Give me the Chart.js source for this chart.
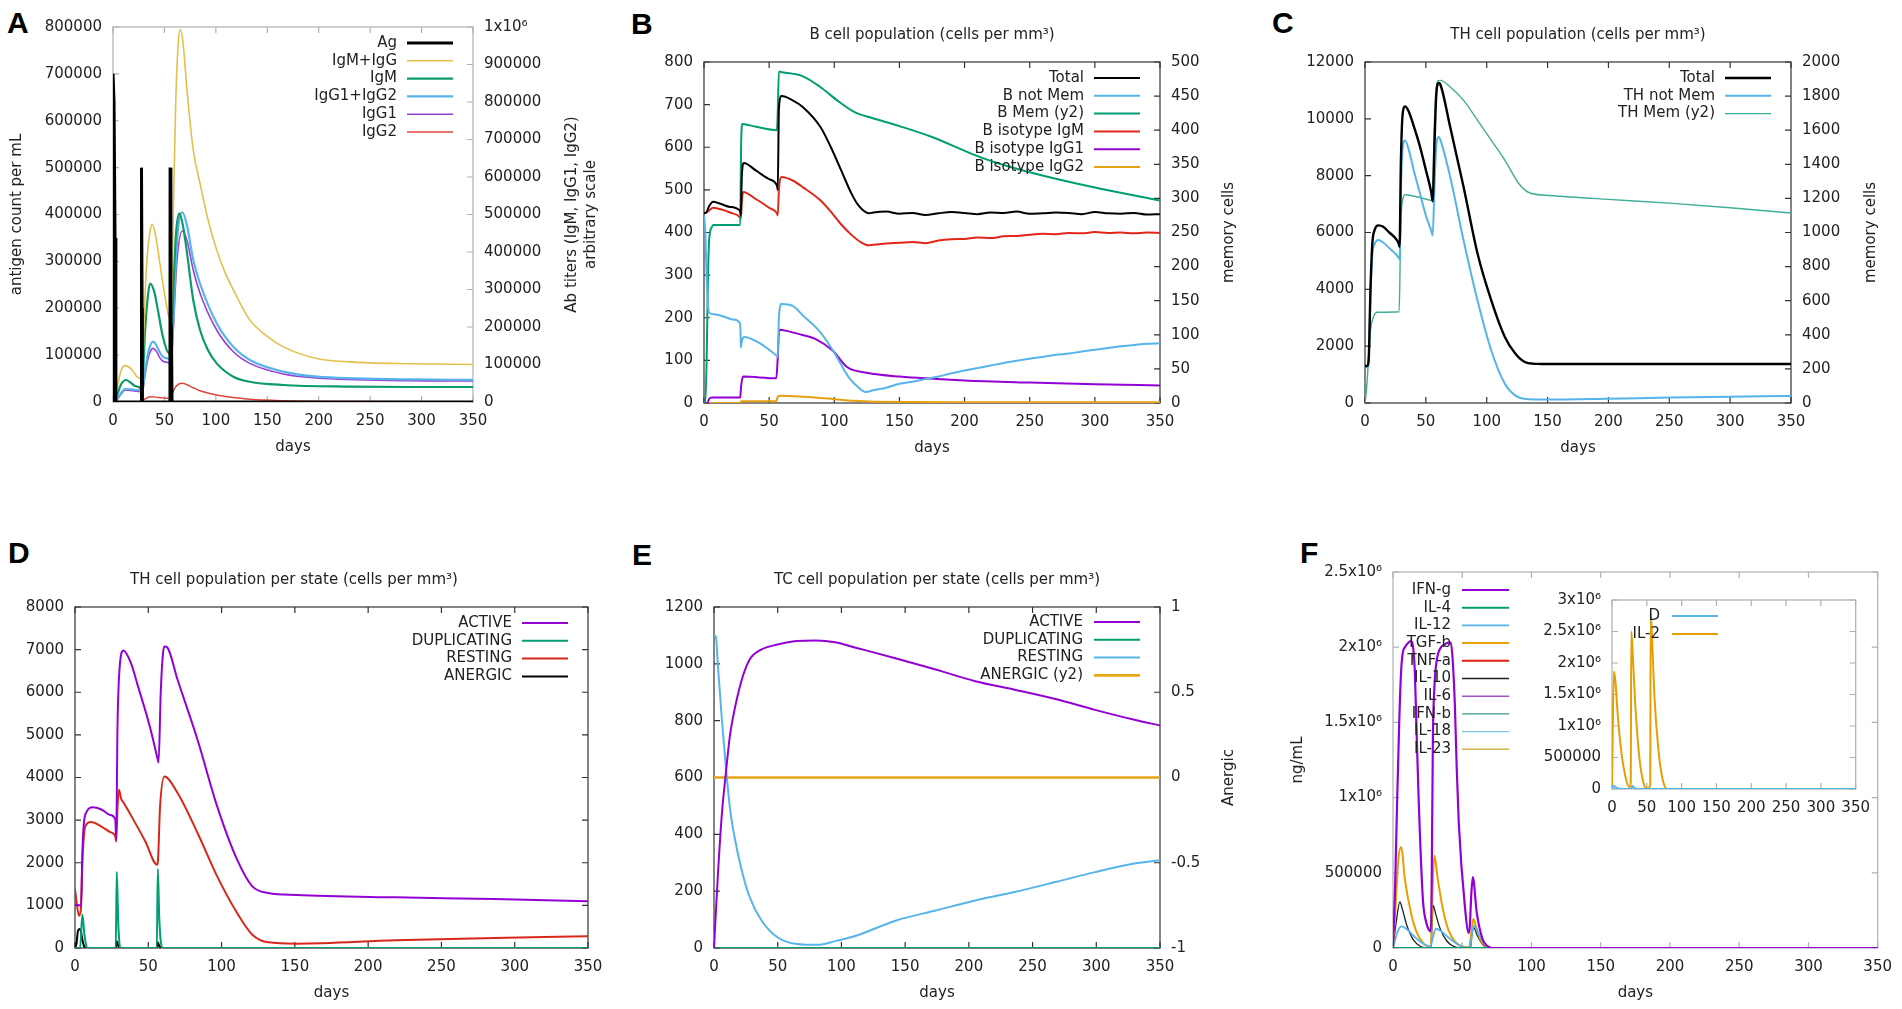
<!DOCTYPE html>
<html>
<head>
<meta charset="utf-8">
<script src="https://cdn.jsdelivr.net/npm/chart.js@4.4.1/dist/chart.umd.min.js"></script>
<style>
  body { margin: 0; background: #fff; width: 1902px; height: 1009px; position: relative; overflow: hidden; }
  .panel { position: absolute; }
  .tag { position: absolute; font: bold 30px "Liberation Sans", Arial, sans-serif; line-height: 30px; color: #000; }
</style>
</head>
<body>
<div class="tag" style="left:7px;top:8px">A</div>
<div class="tag" style="left:631px;top:9px">B</div>
<div class="tag" style="left:1272px;top:8px">C</div>
<div class="tag" style="left:8px;top:538px">D</div>
<div class="tag" style="left:632px;top:540px">E</div>
<div class="tag" style="left:1300px;top:538px">F</div>

<div class="panel" style="left:0px;top:0px;width:600px;height:460px"><canvas id="chartA"></canvas></div>
<div class="panel" style="left:590px;top:0px;width:684px;height:460px"><canvas id="chartB"></canvas></div>
<div class="panel" style="left:1265px;top:0px;width:626px;height:460px"><canvas id="chartC"></canvas></div>
<div class="panel" style="left:0px;top:545px;width:663px;height:460px"><canvas id="chartD"></canvas></div>
<div class="panel" style="left:624px;top:545px;width:626px;height:460px"><canvas id="chartE"></canvas></div>
<div class="panel" style="left:1280px;top:545px;width:622px;height:460px"><canvas id="chartF"></canvas></div>
<div class="panel" style="left:1530px;top:580px;width:350px;height:240px"><canvas id="chartF2"></canvas></div>

<script>
// ---- A: antigen and antibodies ----
const aAgDays = [0, 0.05, 1, 2, 2.8, 27.6, 27.7, 28.3, 28.6, 55.4, 55.5, 56.3, 56.8, 57.4, 350];
const aAg = [0, 700000, 640000, 350000, 0, 0, 500000, 200000, 0, 0, 500000, 170000, 160000, 0, 0];
const aSumDays = [0, 4, 8, 12, 16, 20, 24, 27.3, 27.9, 28.6, 30, 33, 36, 38, 41, 45, 50, 54, 55.6, 56.2, 58, 61, 63.5, 65.5, 68, 72, 78, 84.6, 92, 100.8, 109, 117, 133, 150, 165.6, 198, 230, 289, 350];
const aSum = [0, 40000, 85000, 97000, 92000, 80000, 66000, 58000, 35000, 60000, 200000, 380000, 455000, 474000, 450000, 380000, 290000, 230000, 214000, 195000, 420000, 800000, 960000, 993000, 960000, 830000, 672000, 583000, 490000, 405000, 345000, 299000, 219000, 175000, 147000, 116000, 107000, 102000, 100000];
const aIgmDays = [0, 4, 8, 12.6, 17, 22, 27.3, 27.9, 28.6, 31, 34, 36, 40, 44, 48, 52, 55.6, 56.2, 58, 61, 64.5, 68, 71.6, 78, 84.6, 92, 100.8, 117, 133, 165.6, 230, 289, 350];
const aIgm = [0, 20000, 48000, 58700, 52000, 42000, 35000, 20000, 40000, 180000, 285000, 316000, 295000, 240000, 180000, 140000, 121000, 110000, 250000, 440000, 503000, 470000, 405000, 272000, 192000, 140000, 103000, 67500, 54000, 45300, 41000, 40000, 40000];
const aIggDays = [0, 4, 8, 12, 17, 22, 27.3, 27.9, 28.6, 31, 35, 39, 42, 46, 50, 55.6, 56.2, 58, 62, 67.4, 72, 78, 84.6, 100.8, 117, 133, 165.6, 198, 289, 350];
const aIgg12 = [0, 8000, 25000, 34700, 34000, 32000, 30000, 15000, 25000, 80000, 140000, 161000, 152000, 130000, 118000, 112000, 105000, 180000, 420000, 506000, 470000, 379000, 316000, 210000, 147000, 112000, 81000, 67500, 60500, 59000];
const aIgg1 = [0, 7000, 22000, 32000, 31000, 29000, 27000, 13000, 22000, 70000, 125000, 143000, 136000, 116000, 107000, 103000, 97000, 160000, 370000, 456000, 430000, 352000, 290000, 192000, 134000, 103000, 74700, 64000, 57000, 56000];
const aIgg2Days = [0, 27, 30, 36, 42, 48, 55, 56.1, 58, 62, 67.4, 72, 78, 84.6, 100.8, 117, 133, 165.6, 230, 350];
const aIgg2 = [0, 0, 6000, 14000, 13000, 11000, 9000, 6000, 25000, 44000, 50000, 46000, 38000, 30000, 18700, 12000, 7200, 3500, 1500, 1000];

// ---- B: B cell population ----
const bTotalDays = [0, 2, 4, 7, 12, 20, 27.8, 28.3, 29, 30.5, 40, 50, 56, 56.6, 57.5, 59.5, 68, 76, 89.5, 97.4, 105.4, 113.4, 118.7, 126.6, 130, 140, 150, 160, 170, 180, 190, 200, 210, 220, 230, 240, 250, 260, 270, 280, 290, 300, 310, 320, 330, 340, 350];
const bTotal = [445, 448, 462, 472, 468, 460, 450, 440, 530, 563, 545, 525, 510, 500, 690, 720, 710, 694, 647, 600, 545, 490, 463, 445, 447, 449, 444, 446, 441, 445, 448, 446, 443, 447, 446, 449, 444, 445, 447, 446, 443, 448, 445, 444, 446, 442, 443];
const bNotDays = [0, 1, 2, 3, 4, 8, 15, 22, 27.5, 28, 28.3, 29, 31, 40, 50, 56, 56.6, 57.5, 59.5, 68, 76, 89.5, 100, 110.7, 118.7, 124, 130, 140, 150, 160, 170, 180, 190, 200, 210, 220, 230, 240, 250, 260, 270, 280, 290, 300, 310, 320, 330, 340, 350];
const bNot = [440, 400, 300, 230, 212, 208, 203, 196, 188, 170, 130, 145, 155, 145, 125, 110, 108, 200, 232, 228, 205, 165, 118, 62, 36, 26, 30, 36, 45, 50, 56, 62, 70, 76, 82, 88, 94, 99, 104, 108, 113, 116, 121, 125, 129, 133, 136, 139, 140];
const bMemDays = [0, 1, 2, 3, 4, 6, 7, 27.8, 28.5, 29.5, 40, 56, 56.5, 57.5, 60, 76, 89.5, 102.7, 116, 129, 150, 175, 206, 225, 259, 300, 350];
const bMem = [0, 0, 60, 180, 240, 258, 261, 261, 380, 409, 405, 400, 420, 486, 485, 479, 463, 443, 426, 418, 406, 390, 365, 352, 334, 316, 297];
const bIgmDays = [0, 2, 4, 7, 12, 20, 27.8, 28.3, 29, 30, 40, 50, 56, 56.6, 57.5, 59.5, 68, 76, 89.5, 97, 105, 113, 120, 126, 130, 140, 150, 160, 170, 180, 190, 200, 210, 220, 230, 240, 250, 260, 270, 280, 290, 300, 310, 320, 330, 340, 350];
const bIgm = [445, 447, 452, 458, 455, 447, 435, 432, 470, 495, 478, 458, 445, 440, 500, 530, 522, 506, 475, 450, 420, 395, 378, 370, 371, 374, 376, 378, 375, 381, 384, 385, 388, 387, 391, 392, 395, 397, 396, 399, 398, 401, 399, 400, 398, 400, 399];
const bIgg1Days = [0, 2.5, 4, 6, 27.8, 28.5, 30, 55.5, 56.5, 57.7, 65, 75, 85, 98.7, 110, 125, 150, 200, 250, 300, 350];
const bIgg1 = [0, 0, 10, 13, 13, 40, 62, 58, 100, 172, 168, 160, 151, 123, 84, 71, 62, 53, 48, 44, 41];
const bIgg2Days = [0, 27.8, 28.5, 55.5, 56.5, 58, 70, 85, 100, 115, 130, 200, 350];
const bIgg2 = [0, 0, 4, 4, 14, 17, 16, 13, 9, 5, 3, 2, 2];

// ---- C: TH cell population ----
const cTotalDays = [0, 2, 3, 4.5, 6, 8, 11, 15, 20, 25, 27.8, 28.4, 29.5, 31, 33, 36, 40, 45, 50, 54.5, 55.6, 57, 58.5, 60.5, 62, 70, 81, 92.5, 103.8, 115, 123.6, 132, 143.5, 200, 350];
const cTotal = [1300, 1310, 1500, 4000, 5600, 6100, 6250, 6200, 6000, 5800, 5600, 5500, 8500, 10200, 10440, 10250, 9750, 9050, 8200, 7400, 7100, 9000, 10800, 11260, 11200, 9710, 7600, 5250, 3600, 2310, 1730, 1430, 1375, 1370, 1375];
const cNotDays = [0, 2, 3, 4.5, 6, 8, 11, 15, 20, 25, 27.8, 28.4, 29.5, 31, 33, 36, 40, 45, 50, 54.5, 55.6, 57, 58.5, 60.5, 62, 70, 81, 92.5, 103.8, 115, 123.6, 132, 150, 200, 250, 300, 350];
const cNot = [1300, 1250, 1500, 3800, 5200, 5600, 5740, 5650, 5450, 5250, 5100, 5050, 7500, 9000, 9240, 8900, 8200, 7400, 6600, 6050, 5890, 7500, 9000, 9360, 9250, 7950, 5720, 3600, 1840, 670, 260, 140, 120, 150, 190, 220, 250];
const cMemDays = [0, 1.5, 3.1, 4.5, 7.4, 10.2, 28, 28.6, 29.2, 31.5, 33, 45, 55.6, 56.5, 58, 60, 62, 70, 81, 92.5, 103.8, 115, 126.5, 135, 152, 200, 250, 300, 350];
const cMem = [0, 100, 287, 425, 513, 532, 535, 700, 992, 1207, 1221, 1205, 1188, 1500, 1800, 1890, 1892, 1853, 1775, 1658, 1540, 1423, 1286, 1233, 1217, 1194, 1172, 1145, 1114];

// ---- D: TH cell population per state ----
const dActDays = [0, 3.5, 4.2, 5, 6, 8, 12, 18, 24, 27.5, 28.1, 29, 30.5, 33, 38, 43, 51, 56.5, 57, 58.5, 60, 61, 63, 70, 83.6, 97, 110.6, 121, 132, 151, 218.6, 286, 350];
const dAct = [1016, 1000, 1000, 2200, 2900, 3200, 3300, 3250, 3120, 3010, 2540, 5200, 6600, 6982, 6700, 6138, 5200, 4418, 4350, 6000, 6900, 7076, 7050, 6294, 4887, 3323, 2072, 1446, 1290, 1243, 1188, 1149, 1095];
const dDupDays = [0, 3.5, 5, 6.5, 8, 9, 27.8, 28.5, 29.5, 30.5, 31, 55.8, 56.5, 57.5, 59, 60, 350];
const dDup = [0, 0, 782, 300, 20, 0, 0, 1783, 600, 50, 0, 0, 1853, 700, 50, 0, 0];
const dRestDays = [0, 1, 2.7, 4, 5, 7, 11, 18, 24, 27.5, 28.1, 29, 30, 31.5, 33, 40, 48, 56, 56.5, 58, 61, 70, 83.6, 97, 110.6, 121, 132, 151, 218.6, 286, 350];
const dRest = [1384, 1100, 758, 900, 2000, 2854, 2955, 2850, 2720, 2619, 2500, 3300, 3714, 3500, 3417, 3000, 2500, 1955, 2000, 3300, 4026, 3636, 2697, 1681, 821, 313, 133, 102, 180, 235, 274];
const dAnDays = [0, 1, 2, 3, 4, 5, 6, 7, 27.8, 28.5, 29.5, 31, 55.8, 56.5, 57.5, 59, 350];
const dAn = [0, 100, 400, 446, 400, 200, 60, 0, 0, 156, 60, 0, 0, 133, 50, 0, 0];

// ---- E: TC cell population per state ----
const eActDays = [0, 3.1, 6.2, 9.3, 12.4, 15.6, 21.8, 28, 37, 50, 65, 80, 95, 112, 143, 174, 205, 236, 268, 299, 330, 350];
const eAct = [0, 261, 473, 615, 744, 827, 944, 1015, 1050, 1068, 1080, 1082, 1076, 1056, 1019, 980, 939, 909, 876, 838, 803, 783];
const eRestDays = [0, 1.5, 3.1, 6.2, 9.3, 12.4, 15.6, 21.8, 28, 37.3, 49.8, 65, 81, 96.5, 112, 143, 174, 205, 236, 268, 299, 330, 350];
const eRest = [1100, 1095, 991, 803, 638, 497, 403, 273, 179, 97, 38, 14, 11, 26, 44, 97, 132, 167, 197, 232, 267, 297, 309];
const eFlatDays = [0, 350];
const eDup = [0, 0];
const eAnergic = [0, 0];

// ---- F: cytokines ----
const fIfnDays = [0, 1.5, 2.9, 4.5, 5.8, 7, 8.6, 11, 13, 14.5, 15.8, 17, 18.7, 21.6, 24, 26, 27.4, 28, 28.8, 30, 31.7, 34, 37.5, 40, 41.8, 43.2, 44.7, 46, 47.5, 51.9, 54.7, 55.5, 56.5, 57.6, 60.5, 64.8, 68, 72, 350];
const fIfn = [0, 400000, 942000, 1500000, 1830000, 1960000, 2000000, 2030000, 2040000, 2000000, 1830000, 1450000, 942000, 321000, 170000, 120000, 111000, 500000, 1380000, 1750000, 1920000, 1990000, 2020000, 2030000, 2030000, 1900000, 1610000, 1200000, 831000, 277000, 100000, 150000, 350000, 472000, 233000, 55000, 15000, 0, 0];
const fTgfDays = [0, 2, 4, 6, 8.6, 13, 17.3, 23, 27.4, 28, 29, 30, 32, 36, 40, 45, 50, 55, 56.5, 58, 60, 63, 66, 70, 350];
const fTgf = [0, 300000, 600000, 671000, 454000, 233000, 100000, 22000, 10000, 200000, 500000, 614000, 480000, 260000, 120000, 40000, 10000, 5000, 100000, 193000, 140000, 60000, 20000, 0, 0];
const fIl10Days = [0, 2, 5, 7, 10, 15, 20, 27.4, 28.2, 29, 31, 34, 39, 44, 50, 56, 57, 58, 61, 65, 70, 350];
const fIl10 = [0, 150000, 306000, 250000, 150000, 50000, 10000, 0, 150000, 284000, 220000, 130000, 45000, 10000, 0, 0, 90000, 140000, 80000, 20000, 0, 0];
const fIl12Days = [0, 3, 6, 10, 15, 20, 27, 28.5, 31, 35, 40, 45, 50, 55.5, 57, 58.5, 62, 66, 70, 350];
const fIl12 = [0, 100000, 144000, 125000, 80000, 40000, 10000, 60000, 128000, 110000, 70000, 35000, 10000, 0, 90000, 148000, 90000, 30000, 0, 0];
const fFlatDays = [0, 350];
const fFlat = [0, 0];
const insDDays = [0, 2, 4, 8, 25, 27, 29, 33, 50, 56, 350];
const insD = [0, 46000, 40000, 10000, 0, 0, 46000, 10000, 0, 0, 0];
const insIl2Days = [0, 1, 2.8, 5, 8.3, 13.8, 19.4, 24.5, 26.9, 27.7, 30, 33.2, 38.8, 44.3, 49.8, 54.9, 55.6, 57.5, 60.9, 66.4, 72, 79, 350];
const insIl2 = [0, 900000, 1866000, 1700000, 1170000, 552000, 190000, 30000, 100000, 2500000, 2100000, 1380000, 552000, 140000, 10000, 50000, 2780000, 2400000, 1480000, 655000, 190000, 0, 0];

const TXT = "#222";
const FONT = { family: '"DejaVu Sans", sans-serif', size: 15 };
const FONT_CSS = '15px "DejaVu Sans", sans-serif';

function sci(v) {
  if (v === 0) return "0";
  if (v >= 1000000) return (Math.round(v / 100000) / 10) + "x10\u2076";
  return String(v);
}

function series(label, days, vals, color, width, axis, straight) {
  return {
    label: label,
    data: days.map((d, i) => ({ x: d, y: vals[i] })),
    borderColor: color,
    backgroundColor: color,
    borderWidth: width,
    pointRadius: 0,
    fill: false,
    yAxisID: axis || "y",
    cubicInterpolationMode: straight ? "default" : "monotone",
    tension: 0
  };
}

function xAxis(h, titled, pad) {
  return {
    type: "linear", min: 0, max: 350,
    afterFit: s => { s.height = h; },
    ticks: { stepSize: 50, autoSkip: false, maxRotation: 0, padding: 10, color: TXT, font: FONT },
    grid: { display: false, drawTicks: false },
    border: { display: false },
    title: { display: titled, text: "days", color: TXT, font: FONT, padding: { top: 0, bottom: pad } }
  };
}

function yAxis(pos, min, max, step, w, fmt, title, tpad) {
  return {
    type: "linear", position: pos, min: min, max: max,
    afterFit: s => { s.width = w; },
    ticks: { stepSize: step, autoSkip: false, padding: 11, color: TXT, font: FONT, callback: fmt || (v => String(v)) },
    grid: { display: false, drawTicks: false },
    border: { display: false },
    title: { display: !!title, text: title || "", color: TXT, font: FONT, padding: { top: tpad || 0, bottom: 0 } }
  };
}

// gnuplot-like box with inward ticks on all four sides
const framePlugin = {
  id: "frame",
  beforeDatasetsDraw(chart, args, o) {
    const ctx = chart.ctx, a = chart.chartArea, sc = chart.scales;
    const t = 6;
    ctx.save();
    ctx.strokeStyle = o.color || "#333";
    ctx.lineWidth = 1.2;
    ctx.strokeRect(a.left, a.top, a.right - a.left, a.bottom - a.top);
    ctx.beginPath();
    sc.x.ticks.forEach(tk => {
      const p = sc.x.getPixelForValue(tk.value);
      ctx.moveTo(p, a.bottom); ctx.lineTo(p, a.bottom - t);
      ctx.moveTo(p, a.top); ctx.lineTo(p, a.top + t);
    });
    sc.y.ticks.forEach(tk => {
      const p = sc.y.getPixelForValue(tk.value);
      ctx.moveTo(a.left, p); ctx.lineTo(a.left + t, p);
    });
    const r = sc.y2 || sc.y;
    r.ticks.forEach(tk => {
      const p = r.getPixelForValue(tk.value);
      ctx.moveTo(a.right, p); ctx.lineTo(a.right - t, p);
    });
    ctx.stroke();
    ctx.restore();
  }
};

// key with right-aligned text followed by a line sample
const keyPlugin = {
  id: "key",
  afterDatasetsDraw(chart, args, o) {
    if (o.text === undefined) return;
    const ctx = chart.ctx, a = chart.chartArea;
    const base = o.side === "left" ? a.left : a.right;
    ctx.save();
    ctx.font = FONT_CSS;
    ctx.textAlign = "right";
    ctx.textBaseline = "middle";
    chart.data.datasets.forEach((ds, i) => {
      const y = a.top + o.top + i * o.row;
      ctx.fillStyle = TXT;
      ctx.fillText(ds.label, base + o.text, y);
      ctx.strokeStyle = ds.borderColor;
      ctx.lineWidth = ds.borderWidth;
      ctx.beginPath();
      ctx.moveTo(base + o.s0, y);
      ctx.lineTo(base + o.s1, y);
      ctx.stroke();
    });
    ctx.restore();
  }
};

// right-hand axis titles, read bottom to top
const sideTitlePlugin = {
  id: "sideTitle",
  afterDraw(chart, args, o) {
    if (!o.lines) return;
    const ctx = chart.ctx, a = chart.chartArea;
    ctx.save();
    ctx.font = FONT_CSS;
    ctx.fillStyle = TXT;
    ctx.textAlign = "center";
    ctx.textBaseline = "middle";
    o.lines.forEach((txt, i) => {
      ctx.save();
      ctx.translate(a.right + o.x[i], (a.top + a.bottom) / 2);
      ctx.rotate(-Math.PI / 2);
      ctx.fillText(txt, 0, 0);
      ctx.restore();
    });
    ctx.restore();
  }
};

function makeChart(id, datasets, scales, extra) {
  return new Chart(document.getElementById(id), {
    type: "line",
    data: { datasets: datasets },
    options: {
      responsive: true,
      maintainAspectRatio: false,
      animation: false,
      devicePixelRatio: 1,
      layout: { padding: extra.padding || 0 },
      scales: scales,
      plugins: {
        legend: { display: false },
        tooltip: { enabled: false },
        title: extra.title
          ? { display: true, text: extra.title, color: TXT, font: { family: FONT.family, size: 15, weight: "normal" }, padding: { top: 26, bottom: 18 } }
          : { display: false },
        frame: { color: extra.frame },
        key: extra.key || {},
        sideTitle: extra.side || {}
      }
    },
    plugins: [framePlugin, keyPlugin, sideTitlePlugin]
  });
}

const rightKey = { side: "right", text: -76, s0: -66, s1: -20, top: 16, row: 17.8 };

function init() {
  makeChart("chartA", [
    series("Ag", aAgDays, aAg, "#000000", 3, "y", true),
    series("IgM+IgG", aSumDays, aSum, "#e4bf4c", 1.6, "y2"),
    series("IgM", aIgmDays, aIgm, "#0c9b6e", 2.2, "y2"),
    series("IgG1+IgG2", aIggDays, aIgg12, "#56b4e9", 2.2, "y2"),
    series("IgG1", aIggDays, aIgg1, "#9a3ed8", 1.6, "y2"),
    series("IgG2", aIgg2Days, aIgg2, "#e0443c", 1.4, "y2")
  ], {
    x: xAxis(58, true, 4),
    y: yAxis("left", 0, 800000, 100000, 113, null, "antigen count per mL", 8),
    y2: yAxis("right", 0, 1000000, 100000, 127, sci)
  }, {
    padding: { top: 27 }, frame: "#b0b0b0", key: rightKey,
    side: { lines: ["Ab titers (IgM, IgG1, IgG2)", "arbitrary scale"], x: [99, 118] }
  });

  makeChart("chartB", [
    series("Total", bTotalDays, bTotal, "#000000", 2),
    series("B not Mem", bNotDays, bNot, "#56b4e9", 2),
    series("B Mem (y2)", bMemDays, bMem, "#009e73", 2, "y2"),
    series("B isotype IgM", bIgmDays, bIgm, "#e2261a", 2),
    series("B isotype IgG1", bIgg1Days, bIgg1, "#9400d3", 2),
    series("B isotype IgG2", bIgg2Days, bIgg2, "#e6a010", 2)
  ], {
    x: xAxis(57, true, 3),
    y: yAxis("left", 0, 800, 100, 114),
    y2: yAxis("right", 0, 500, 50, 114)
  }, {
    title: "B cell population (cells per mm\u00b3)", key: rightKey,
    side: { lines: ["memory cells"], x: [69] }
  });

  makeChart("chartC", [
    series("Total", cTotalDays, cTotal, "#000000", 2.4),
    series("TH not Mem", cNotDays, cNot, "#56b4e9", 2),
    series("TH Mem (y2)", cMemDays, cMem, "#3fae96", 1.4, "y2")
  ], {
    x: xAxis(57, true, 3),
    y: yAxis("left", 0, 12000, 2000, 100),
    y2: yAxis("right", 0, 2000, 200, 100)
  }, {
    title: "TH cell population (cells per mm\u00b3)", key: rightKey,
    side: { lines: ["memory cells"], x: [80] }
  });

  makeChart("chartD", [
    series("ACTIVE", dActDays, dAct, "#9400d3", 2),
    series("DUPLICATING", dDupDays, dDup, "#009e73", 2),
    series("RESTING", dRestDays, dRest, "#d8281c", 2),
    series("ANERGIC", dAnDays, dAn, "#000000", 2)
  ], {
    x: xAxis(57, true, 3),
    y: yAxis("left", 0, 8000, 1000, 75)
  }, {
    padding: { right: 75 },
    title: "TH cell population per state (cells per mm\u00b3)", key: rightKey
  });

  makeChart("chartE", [
    series("ACTIVE", eActDays, eAct, "#9400d3", 2),
    series("DUPLICATING", eFlatDays, eDup, "#009e73", 2),
    series("RESTING", eRestDays, eRest, "#56b4e9", 2),
    series("ANERGIC (y2)", eFlatDays, eAnergic, "#e8a317", 2.6, "y2")
  ], {
    x: xAxis(57, true, 3),
    y: yAxis("left", 0, 1200, 200, 90),
    y2: yAxis("right", -1, 1, 0.5, 90)
  }, {
    title: "TC cell population per state (cells per mm\u00b3)",
    key: { side: "right", text: -77, s0: -66, s1: -20, top: 15, row: 17.8 },
    side: { lines: ["Anergic"], x: [69] }
  });

  makeChart("chartF", [
    series("IFN-g", fIfnDays, fIfn, "#9400d3", 2.2),
    series("IL-4", fFlatDays, fFlat, "#009e73", 2),
    series("IL-12", fIl12Days, fIl12, "#56b4e9", 1.8),
    series("TGF-b", fTgfDays, fTgf, "#e69f00", 2),
    series("TNF-a", fFlatDays, fFlat, "#e51e10", 2),
    series("IL-10", fIl10Days, fIl10, "#222222", 1.3),
    series("IL-6", fFlatDays, fFlat, "#a552c8", 1.4),
    series("IFN-b", fFlatDays, fFlat, "#3a9c8c", 1.4),
    series("IL-18", fFlatDays, fFlat, "#7cc4e8", 1.4),
    series("IL-23", fFlatDays, fFlat, "#d9b24a", 1.4)
  ], {
    x: xAxis(57, true, 3),
    y: yAxis("left", 0, 2500000, 500000, 113, sci, "ng/mL", 9)
  }, {
    padding: { top: 27, right: 24 }, frame: "#b0b0b0",
    key: { side: "left", text: 58, s0: 69, s1: 116, top: 18, row: 17.7 }
  });

  makeChart("chartF2", [
    series("D", insDDays, insD, "#56b4e9", 2),
    series("IL-2", insIl2Days, insIl2, "#e69f00", 2)
  ], {
    x: xAxis(31, false, 0),
    y: yAxis("left", 0, 3000000, 500000, 82, sci)
  }, {
    padding: { top: 15, right: 14 }, frame: "#b0b0b0",
    key: { side: "left", text: 48, s0: 60, s1: 106, top: 16, row: 18 }
  });
}

window.onload = init;
</script>
</body>
</html>
